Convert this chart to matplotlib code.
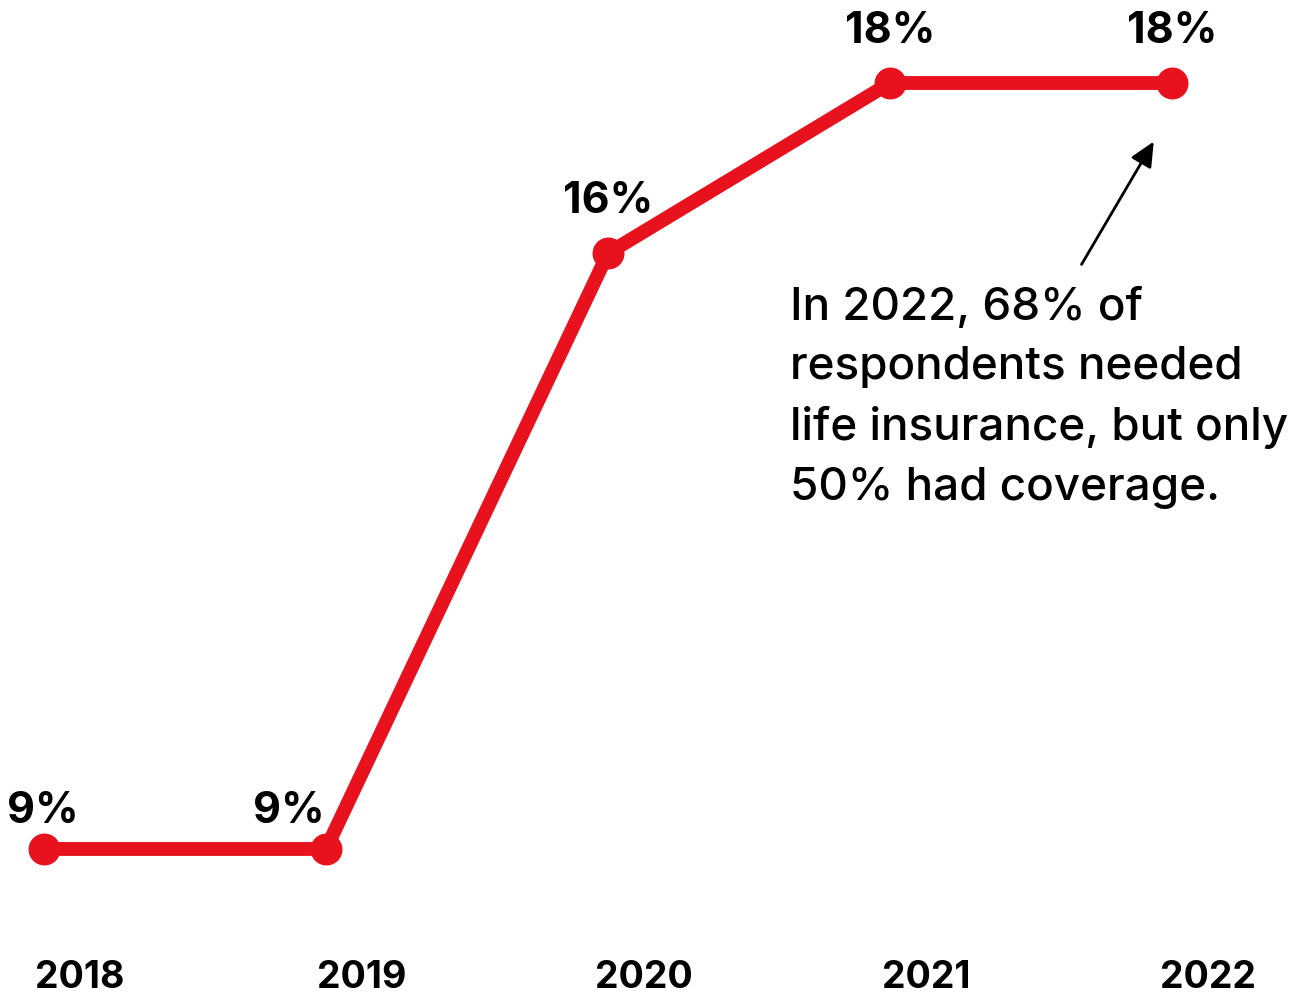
import matplotlib
matplotlib.use("Agg")
import matplotlib.pyplot as plt

years = ["2018", "2019", "2020", "2021", "2022"]
values = [9, 9, 16, 18, 18]
value_labels = ["9%", "9%", "16%", "18%", "18%"]
note = "In 2022, 68% of\nrespondents needed\nlife insurance, but only\n50% had coverage."

RED = "#E8111E"
plt.rcParams['font.family'] = ['Inter', 'DejaVu Sans']

fig = plt.figure(figsize=(12.97, 9.95), dpi=100)
ax = fig.add_axes([0, 0, 1, 1])
ax.set_axis_off()

x = list(range(len(years)))
ax.plot(x, values, color=RED, lw=10, solid_capstyle='round', solid_joinstyle='round', zorder=2)
ax.plot(x, values, 'o', color=RED, ms=22, zorder=3)

ax.set_xlim(-0.156, 4.443)
ax.set_ylim(7.296, 18.987)

# value labels (offsets in points)
offsets = [(-1, 13), (-27, 13), (0, 23), (0, 23), (0, 23)]
for xi, v, lab, off in zip(x, values, value_labels, offsets):
    ax.annotate(lab, (xi, v), xytext=off, textcoords='offset points',
                ha='center', va='bottom', fontsize=31, fontweight='bold', color='black')

# year labels
for xi, y in zip(x, years):
    ax.annotate(y, (xi, 7.296), xytext=(26, 12), textcoords='offset points',
                ha='center', va='center', fontsize=27, fontweight='bold', color='black')

# annotation
ax.text(2.645, 15.62, note, ha='left', va='top', fontsize=33, fontweight='medium',
        color='black', linespacing=1.53)
ax.annotate('', xy=(3.940, 17.34), xytext=(3.674, 15.84),
            arrowprops=dict(arrowstyle='-|>,head_length=1.5,head_width=0.7', color='black', lw=2))

fig.savefig("out.png", dpi=100)
